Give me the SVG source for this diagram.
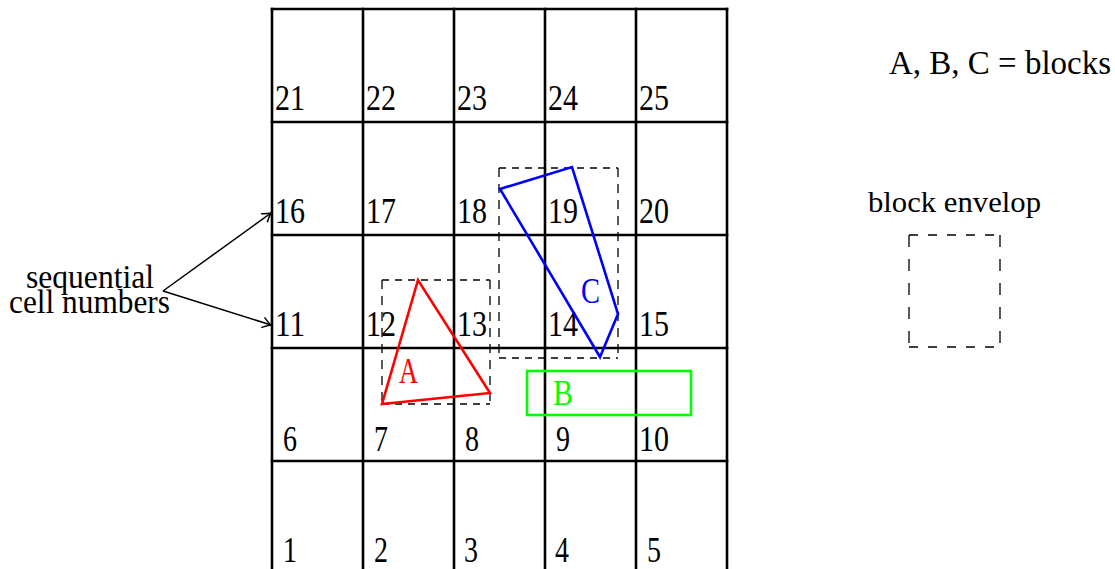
<svg xmlns="http://www.w3.org/2000/svg" width="1115" height="569" viewBox="0 0 1115 569">
<style>
.txt text{font-family:"Liberation Serif","Times New Roman","DejaVu Serif",serif}
.num{font-size:35px}
.grid{stroke:#000;stroke-width:2.6;fill:none;stroke-linecap:square}
.env{stroke:#000;stroke-width:1.3;fill:none}
.h{stroke-dasharray:7 6}
.v{stroke-dasharray:9 7}
.blk{stroke-width:2.6;fill:none;stroke-linejoin:miter}
.conn{stroke:#000;stroke-width:1.5;fill:none}
</style>
<defs>
<marker id="arr" markerUnits="userSpaceOnUse" markerWidth="16" markerHeight="16" viewBox="-10 -8 12 16" refX="0" refY="0" orient="auto">
<path d="M -8 -5 Q -3 -1.2 0 0 Q -3 1.2 -8 5" stroke="#000" stroke-width="1.5" fill="none" stroke-linecap="round"/>
</marker>
</defs>
<rect width="1115" height="569" fill="#fff"/>
<g id="grid" class="grid">
<path d="M272 9V571M363 9V571M454 9V571M545 9V571M636 9V571M727 9V571"/>
<path d="M272 9H727M272 122H727M272 235H727M272 348H727M272 461H727"/>
</g>
<g class="txt" font-family="Liberation Serif, Times New Roman, DejaVu Serif, serif">
<g id="cell-numbers" class="num" fill="#000">
<text x="275" y="110" textLength="30" lengthAdjust="spacingAndGlyphs">21</text>
<text x="366" y="110" textLength="30" lengthAdjust="spacingAndGlyphs">22</text>
<text x="457" y="110" textLength="30" lengthAdjust="spacingAndGlyphs">23</text>
<text x="548" y="110" textLength="30" lengthAdjust="spacingAndGlyphs">24</text>
<text x="639" y="110" textLength="30" lengthAdjust="spacingAndGlyphs">25</text>
<text x="275" y="223" textLength="30" lengthAdjust="spacingAndGlyphs">16</text>
<text x="366" y="223" textLength="30" lengthAdjust="spacingAndGlyphs">17</text>
<text x="457" y="223" textLength="30" lengthAdjust="spacingAndGlyphs">18</text>
<text x="548" y="223" textLength="30" lengthAdjust="spacingAndGlyphs">19</text>
<text x="639" y="223" textLength="30" lengthAdjust="spacingAndGlyphs">20</text>
<text x="275" y="336" textLength="30" lengthAdjust="spacingAndGlyphs">11</text>
<text x="366" y="336" textLength="30" lengthAdjust="spacingAndGlyphs">12</text>
<text x="457" y="336" textLength="30" lengthAdjust="spacingAndGlyphs">13</text>
<text x="548" y="336" textLength="30" lengthAdjust="spacingAndGlyphs">14</text>
<text x="639" y="336" textLength="30" lengthAdjust="spacingAndGlyphs">15</text>
<text x="283" y="451" textLength="14" lengthAdjust="spacingAndGlyphs">6</text>
<text x="374" y="451" textLength="14" lengthAdjust="spacingAndGlyphs">7</text>
<text x="465" y="451" textLength="14" lengthAdjust="spacingAndGlyphs">8</text>
<text x="556" y="451" textLength="14" lengthAdjust="spacingAndGlyphs">9</text>
<text x="639" y="451" textLength="30" lengthAdjust="spacingAndGlyphs">10</text>
<text x="283" y="562" textLength="14" lengthAdjust="spacingAndGlyphs">1</text>
<text x="374" y="562" textLength="14" lengthAdjust="spacingAndGlyphs">2</text>
<text x="464" y="562" textLength="14" lengthAdjust="spacingAndGlyphs">3</text>
<text x="555" y="562" textLength="14" lengthAdjust="spacingAndGlyphs">4</text>
<text x="647" y="562" textLength="14" lengthAdjust="spacingAndGlyphs">5</text>
</g>
</g>
<g id="envelope-A" class="env">
<path class="h" d="M382 280H490M382 404H490"/>
<path class="v" d="M382 280V404M490 280V404"/>
</g>
<g id="envelope-C" class="env">
<path class="h" d="M499 168H618M499 358H618"/>
<path class="v" d="M499 168V358M618 168V358"/>
</g>
<g class="txt" font-family="Liberation Serif, Times New Roman, DejaVu Serif, serif">
<g id="block-A">
<polygon class="blk" stroke="#ff0000" points="418,280 382,404 490,393"/>
<text x="399" y="383" font-size="36" fill="#ff0000" textLength="19" lengthAdjust="spacingAndGlyphs">A</text>
</g>
<g id="block-B">
<rect class="blk" stroke="#00ff00" x="527" y="371" width="164" height="44"/>
<text x="553" y="405" font-size="36" fill="#00ff00" textLength="20" lengthAdjust="spacingAndGlyphs">B</text>
</g>
<g id="block-C">
<polygon class="blk" stroke="#0000ff" points="500,189 572,167 618,314 600,357"/>
<text x="581" y="303" font-size="35" fill="#0000ff" textLength="19" lengthAdjust="spacingAndGlyphs">C</text>
</g>
<g id="label-sequential" fill="#000">
<text font-size="34"><tspan x="26" y="288" textLength="128" lengthAdjust="spacingAndGlyphs">sequential</tspan><tspan x="9" y="313" textLength="161" lengthAdjust="spacingAndGlyphs">cell numbers</tspan></text>
</g>
<g id="legend-blocks" fill="#000">
<text x="889" y="74" font-size="33" textLength="222" lengthAdjust="spacingAndGlyphs">A, B, C = blocks</text>
</g>
<g id="legend-envelope" fill="#000">
<text x="868" y="212" font-size="30" textLength="173" lengthAdjust="spacingAndGlyphs">block envelop</text>
<g class="env">
<path d="M909 235H1000M909 347H1000" stroke-dasharray="9 10"/>
<path d="M909 235V347M1000 235V347" stroke-dasharray="12 12"/>
</g>
</g>
</g>
<g id="connectors">
<path class="conn" d="M163 291L271 213" marker-end="url(#arr)"/>
<path class="conn" d="M163 291L271 325" marker-end="url(#arr)"/>
</g>
</svg>
